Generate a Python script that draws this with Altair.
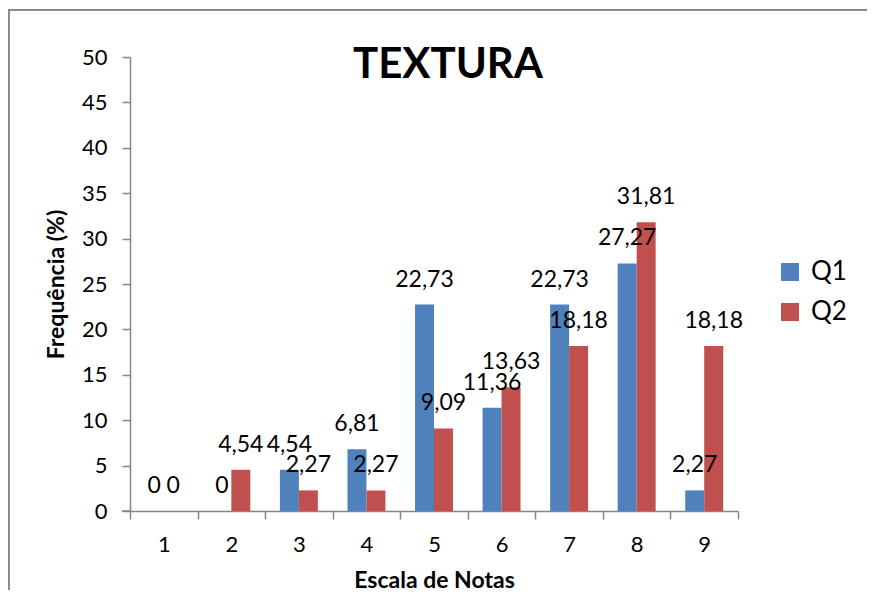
import altair as alt
import pandas as pd

categories = ["1", "2", "3", "4", "5", "6", "7", "8", "9"]
q1 = [0, 0, 4.54, 6.81, 22.73, 11.36, 22.73, 27.27, 2.27]
q2 = [0, 4.54, 2.27, 2.27, 9.09, 13.63, 18.18, 31.81, 18.18]
series = ["Q1", "Q2"]
colors = ["#4F81BD", "#C0504D"]
y_ticks = [0, 5, 10, 15, 20, 25, 30, 35, 40, 45, 50]

rows = []
for c, a, b in zip(categories, q1, q2):
    rows.append({"nota": c, "serie": "Q1", "valor": a})
    rows.append({"nota": c, "serie": "Q2", "valor": b})
df = pd.DataFrame(rows)

FONT = "Lato"
W, H = 608, 454
PAD = {"left": 122, "top": 49, "right": 129, "bottom": 79}

x_enc = alt.X(
    "nota:N",
    sort=categories,
    scale=alt.Scale(paddingInner=0, paddingOuter=0),
    axis=alt.Axis(
        title="Escala de Notas",
        labelAngle=0,
        tickBand="extent",
        tickSize=8,
        labelPadding=15,
        titlePadding=14,
        labelFontSize=22,
        titleFontSize=23,
    ),
)
xoff = alt.XOffset("serie:N", sort=series, scale=alt.Scale(paddingInner=0, paddingOuter=0.78))
y_enc = alt.Y(
    "valor:Q",
    scale=alt.Scale(domain=[0, 50], nice=False),
    axis=alt.Axis(
        title="Frequência (%)",
        values=y_ticks,
        tickSize=8,
        labelPadding=15,
        titlePadding=13,
        grid=False,
        labelFontSize=22,
        titleFontSize=23,
    ),
)

bars = alt.Chart(df).mark_bar().encode(
    x=x_enc,
    xOffset=xoff,
    y=y_enc,
    color=alt.Color(
        "serie:N",
        sort=series,
        scale=alt.Scale(domain=series, range=colors),
        legend=alt.Legend(
            title=None,
            orient="none",
            legendX=647,
            legendY=202,
            symbolType="square",
            symbolSize=324,
            symbolStrokeWidth=0,
            labelFontSize=26,
            labelFont=FONT,
            labelColor="black",
            labelOffset=8,
            rowPadding=14,
            padding=0,
        ),
    ),
)

labels = alt.Chart(df).transform_calculate(
    rotulo="replace(toString(datum.valor), '.', ',')"
).mark_text(fontSize=23, font=FONT, color="black", baseline="middle", dy=-25).encode(
    x=alt.X("nota:N", sort=categories),
    xOffset=alt.XOffset("serie:N", sort=series),
    y=alt.Y("valor:Q"),
    text="rotulo:N",
)

title = alt.Chart(pd.DataFrame({"t": ["TEXTURA"]})).mark_text(
    fontSize=42, font=FONT, fontWeight="bold", color="black", baseline="alphabetic", align="center"
).encode(x=alt.value(318), y=alt.value(21), text="t:N")

frame_left = alt.Chart(pd.DataFrame({"t": [0]})).mark_rule(color="#8C8C8C", strokeWidth=2).encode(
    x=alt.value(-121), y=alt.value(-48), y2=alt.value(H + PAD["bottom"])
)
frame_top = alt.Chart(pd.DataFrame({"t": [0]})).mark_rule(color="#8C8C8C", strokeWidth=2).encode(
    x=alt.value(-122), x2=alt.value(W + PAD["right"]), y=alt.value(-47)
)

end_tick = alt.Chart(pd.DataFrame({"t": [0]})).mark_rule(color="#868686", strokeWidth=1.5).encode(
    x=alt.value(-8), x2=alt.value(0), y=alt.value(H)
)

chart = alt.layer(frame_left, frame_top, bars, labels, title, end_tick).properties(
    width=W,
    height=H,
    autosize=alt.AutoSizeParams(type="none"),
    padding=PAD,
).configure_view(stroke=None).configure_axis(
    labelFont=FONT,
    titleFont=FONT,
    labelColor="black",
    titleColor="black",
    titleFontWeight="bold",
    domainColor="#868686",
    tickColor="#868686",
    domainWidth=1.5,
    tickWidth=1.5,
)

chart.save("out.html", embed_options={"renderer": "svg", "actions": False})
